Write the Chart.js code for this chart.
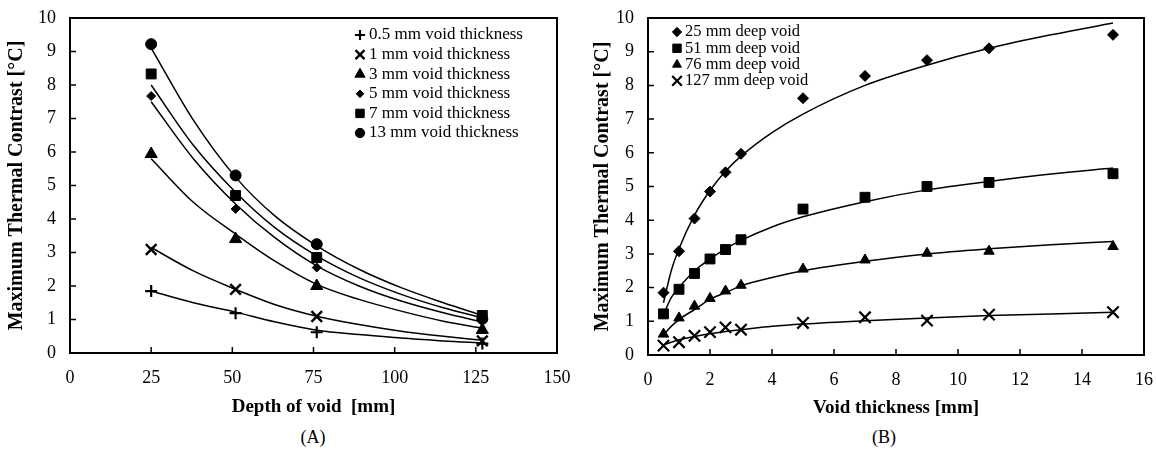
<!DOCTYPE html>
<html>
<head>
<meta charset="utf-8">
<script src="https://cdn.jsdelivr.net/npm/chart.js@4.4.1/dist/chart.umd.min.js"></script>
<style>
body { margin: 0; background: #fff; width: 1156px; height: 458px; position: relative; overflow: hidden; font-family: "Liberation Serif", serif; }
#ca { position: absolute; left: 0; top: 0; }
#cb { position: absolute; left: 578px; top: 0; }
.cap { position: absolute; top: 427px; width: 60px; text-align: center; font-size: 18px; line-height: 20px; }
</style>
</head>
<body>
<canvas id="ca" width="580" height="420"></canvas>
<canvas id="cb" width="578" height="420"></canvas>
<div class="cap" style="left:283px">(A)</div>
<div class="cap" style="left:854px">(B)</div>
<script>
// (A) contrast vs depth, one series per void thickness
const depthA = [25, 51, 76, 127];
const void05 = [1.85, 1.19, 0.62, 0.28];
const void1 = [3.09, 1.9, 1.09, 0.36];
const void3 = [5.94, 3.4, 2.0, 0.69];
const void5 = [7.67, 4.3, 2.55, 0.95];
const void7 = [8.33, 4.7, 2.85, 1.12];
const void13 = [9.22, 5.3, 3.25, 1.02];
// trend lines
const fitXA = [25, 38, 51, 63, 76, 89, 102, 115, 127];
const fit05 = [1.85, 1.5, 1.22, 0.93, 0.68, 0.55, 0.45, 0.36, 0.3];
const fit1 = [3.15, 2.45, 1.9, 1.45, 1.1, 0.85, 0.65, 0.5, 0.38];
const fit3 = [5.8, 4.5, 3.55, 2.75, 2.05, 1.6, 1.25, 0.95, 0.74];
const fit5 = [7.5, 5.8, 4.45, 3.45, 2.6, 2.0, 1.55, 1.2, 0.93];
const fit7 = [8.0, 6.2, 4.8, 3.75, 2.9, 2.25, 1.75, 1.35, 1.05];
const fit13 = [9.1, 6.95, 5.25, 4.1, 3.2, 2.5, 1.95, 1.5, 1.12];
const labelsA = ["0.5 mm void thickness", "1 mm void thickness", "3 mm void thickness",
                 "5 mm void thickness", "7 mm void thickness", "13 mm void thickness"];

// (B) contrast vs void thickness, one series per depth
const thickB = [0.5, 1, 1.5, 2, 2.5, 3, 5, 7, 9, 11, 15];
const deep25 = [1.85, 3.08, 4.05, 4.85, 5.42, 5.97, 7.62, 8.28, 8.75, 9.1, 9.5];
const deep51 = [1.22, 1.95, 2.42, 2.85, 3.13, 3.42, 4.33, 4.68, 5.0, 5.12, 5.38];
const deep76 = [0.62, 1.1, 1.45, 1.68, 1.9, 2.07, 2.55, 2.82, 3.02, 3.08, 3.22];
const deep127 = [0.28, 0.38, 0.57, 0.68, 0.82, 0.75, 0.95, 1.12, 1.02, 1.2, 1.27];
const fitXB = [0.5, 0.75, 1, 1.5, 2, 2.5, 3, 4, 5, 7, 9, 11, 13, 15];
const fit25 = [1.55, 2.5, 3.15, 4.15, 4.88, 5.45, 5.9, 6.6, 7.15, 8.0, 8.6, 9.1, 9.5, 9.85];
const fit51 = [1.2, 1.7, 2.0, 2.5, 2.85, 3.15, 3.4, 3.8, 4.1, 4.55, 4.9, 5.15, 5.37, 5.55];
const fit76 = [0.6, 0.85, 1.05, 1.35, 1.65, 1.85, 2.05, 2.3, 2.5, 2.78, 3.0, 3.15, 3.27, 3.37];
const fit127 = [0.3, 0.38, 0.45, 0.55, 0.63, 0.7, 0.75, 0.85, 0.92, 1.02, 1.1, 1.17, 1.22, 1.27];
const labelsB = ["25 mm deep void", "51 mm deep void", "76 mm deep void", "127 mm deep void"];

const serif = '"Liberation Serif", "Times New Roman", serif';

function pts(xs, ys) {
    return xs.map((x, i) => ({ x: x, y: ys[i] }));
}

function marks(label, xs, ys, style, r, bw) {
    return {
        label: label, data: pts(xs, ys), pointStyle: style, pointRadius: r,
        pointBackgroundColor: '#000', pointBorderColor: '#000', pointBorderWidth: bw,
        borderWidth: bw, showLine: false
    };
}

function trend(xs, ys) {
    return {
        label: '', data: pts(xs, ys), showLine: true, pointRadius: 0,
        borderColor: '#000', borderWidth: 1.5, fill: false, cubicInterpolationMode: 'monotone'
    };
}

// box round the plot area, inward tick marks, legend drawn inside it
const framePlugin = {
    id: 'frame',
    afterDraw(chart, args, opts) {
        const { ctx, chartArea: a, scales } = chart;
        ctx.save();
        ctx.strokeStyle = '#000';
        ctx.lineWidth = 2;
        ctx.strokeRect(a.left, a.top, a.right - a.left, a.bottom - a.top);
        ctx.lineWidth = 1.5;
        ctx.beginPath();
        scales.x.ticks.forEach(t => {
            const px = scales.x.getPixelForValue(t.value);
            ctx.moveTo(px, a.bottom);
            ctx.lineTo(px, a.bottom - 6);
        });
        scales.y.ticks.forEach(t => {
            const py = scales.y.getPixelForValue(t.value);
            ctx.moveTo(a.left, py);
            ctx.lineTo(a.left + 6, py);
        });
        ctx.stroke();

        ctx.font = opts.size + 'px ' + serif;
        ctx.textBaseline = 'middle';
        ctx.fillStyle = '#000';
        let row = 0;
        chart.data.datasets.forEach(ds => {
            if (!ds.label) return;
            const y = opts.y + row * opts.dy;
            ctx.lineWidth = ds.borderWidth;
            Chart.helpers.drawPoint(ctx, {
                pointStyle: ds.pointStyle, radius: ds.pointRadius * opts.scale,
                rotation: 0, borderWidth: ds.borderWidth
            }, opts.x, y);
            ctx.fillText(ds.label, opts.x + opts.gap, y);
            row++;
        });
        ctx.restore();
    }
};

function scales(xMax, xStep, xTitle, yTitlePad, xTitlePad, yWidth, xHeight) {
    return {
        x: {
            type: 'linear', min: 0, max: xMax,
            ticks: { stepSize: xStep, color: '#000', padding: 14, font: { family: serif, size: 18 } },
            grid: { drawOnChartArea: false, drawTicks: false },
            border: { color: '#000', width: 2 },
            title: { display: true, text: xTitle, color: '#000', padding: { top: 0, bottom: xTitlePad },
                     font: { family: serif, size: 19, weight: 'bold' } },
            afterFit(s) { s.height = xHeight; s.paddingLeft = 0; s.paddingRight = 0; }
        },
        y: {
            type: 'linear', min: 0, max: 10,
            ticks: { stepSize: 1, color: '#000', padding: 14, font: { family: serif, size: 18 } },
            grid: { drawOnChartArea: false, drawTicks: false },
            border: { color: '#000', width: 2 },
            title: { display: true, text: 'Maximum Thermal Contrast [°C]', color: '#000',
                     padding: { top: yTitlePad, bottom: 0 },
                     font: { family: serif, size: 20, weight: 'bold' } },
            afterFit(s) { s.width = yWidth; s.paddingTop = 0; s.paddingBottom = 0; }
        }
    };
}

new Chart(document.getElementById('ca'), {
    type: 'scatter',
    data: {
        datasets: [
            marks(labelsA[0], depthA, void05, 'cross', 6, 2.2),
            marks(labelsA[1], depthA, void1, 'crossRot', 7.5, 2.4),
            marks(labelsA[2], depthA, void3, 'triangle', 7, 1),
            marks(labelsA[3], depthA, void5, 'rectRot', 4.5, 1),
            marks(labelsA[4], depthA, void7, 'rect', 7, 1),
            marks(labelsA[5], depthA, void13, 'circle', 5.5, 1),
            trend(fitXA, fit05), trend(fitXA, fit1), trend(fitXA, fit3),
            trend(fitXA, fit5), trend(fitXA, fit7), trend(fitXA, fit13)
        ]
    },
    options: {
        responsive: false,
        animation: false,
        layout: { padding: { top: 18, right: 23, left: 0, bottom: 0 } },
        plugins: {
            legend: { display: false },
            tooltip: { enabled: false },
            frame: { x: 360, y: 35, dy: 19.6, gap: 9, size: 17, scale: 0.85 }
        },
        scales: scales(150, 25, 'Depth of void  [mm]', 5, 2, 70, 67)
    },
    plugins: [framePlugin]
});

new Chart(document.getElementById('cb'), {
    type: 'scatter',
    data: {
        datasets: [
            marks(labelsB[0], thickB, deep25, 'rectRot', 5.5, 1),
            marks(labelsB[1], thickB, deep51, 'rect', 7, 1),
            marks(labelsB[2], thickB, deep76, 'triangle', 6, 1),
            marks(labelsB[3], thickB, deep127, 'crossRot', 8, 2.2),
            trend(fitXB, fit25), trend(fitXB, fit51), trend(fitXB, fit76), trend(fitXB, fit127)
        ]
    },
    options: {
        responsive: false,
        animation: false,
        layout: { padding: { top: 18, right: 12, left: 0, bottom: 0 } },
        plugins: {
            legend: { display: false },
            tooltip: { enabled: false },
            frame: { x: 99, y: 32, dy: 16.3, gap: 8, size: 16.5, scale: 0.85 }
        },
        scales: scales(16, 2, 'Void thickness [mm]', 13, 1, 70, 65)
    },
    plugins: [framePlugin]
});
</script>
</body>
</html>
